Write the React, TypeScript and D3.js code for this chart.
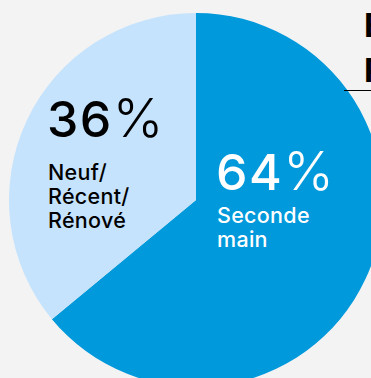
import React from "react";
import * as d3 from "d3";

const categories = ["Seconde main", "Neuf/ Récent/ Rénové"];
const values = [64, 36];
const percentNumbers = ["64", "36"];
const subLabels = [["Seconde", "main"], ["Neuf/", "Récent/", "Rénové"]];
const titleLines = ["État", "Profil"];

const W = 371;
const H = 378;
const colors = ["#0099db", "#c5e3fc"];
const textColors = ["#ffffff", "#000000"];

export default function App() {
  const cx = 196;
  const cy = 200;
  const r = 187;
  const pie = d3.pie<number>().sort(null).startAngle(0).endAngle(2 * Math.PI);
  const arcs = pie(values);
  const arc = d3.arc<d3.PieArcDatum<number>>().innerRadius(0).outerRadius(r);
  const labelPos = [
    { x: 216, y: 190, sub: 223, lh: 24 },
    { x: 47, y: 137, sub: 180, lh: 24 },
  ];
  return (
    <div style={{ position: "absolute", left: 0, top: 0 }}>
      <svg width={W} height={H} style={{ display: "block" }} fontFamily="Inter, 'Noto Sans', sans-serif">
        <rect x={0} y={0} width={W} height={H} fill="#f3f3f3" />
        <g transform={`translate(${cx},${cy})`}>
          {arcs.map((a, i) => (
            <path key={categories[i]} d={arc(a) || ""} fill={colors[i]} />
          ))}
        </g>
        {arcs.map((a, i) => (
          <g key={"l" + i} fill={textColors[i]}>
            <text x={labelPos[i].x} y={labelPos[i].y} fontSize={50} fontWeight={450} letterSpacing={1.5}>
              {percentNumbers[i]}
              <tspan dx={0} fontSize={54} fontWeight={350}>%</tspan>
            </text>
            {subLabels[i].map((s, j) => (
              <text key={j} x={labelPos[i].x + 1} y={labelPos[i].sub + j * labelPos[i].lh} fontSize={21.5} fontWeight={500} letterSpacing={0.3}>
                {s}
              </text>
            ))}
          </g>
        ))}
        <text x={364} y={37} fontSize={33} fontWeight={700} fill="#000">{titleLines[0]}</text>
        <text x={364} y={82} fontSize={33} fontWeight={700} fill="#000">{titleLines[1]}</text>
        <line x1={344} x2={W} y1={90.5} y2={90.5} stroke="#000" strokeWidth={1} />
      </svg>
    </div>
  );
}
